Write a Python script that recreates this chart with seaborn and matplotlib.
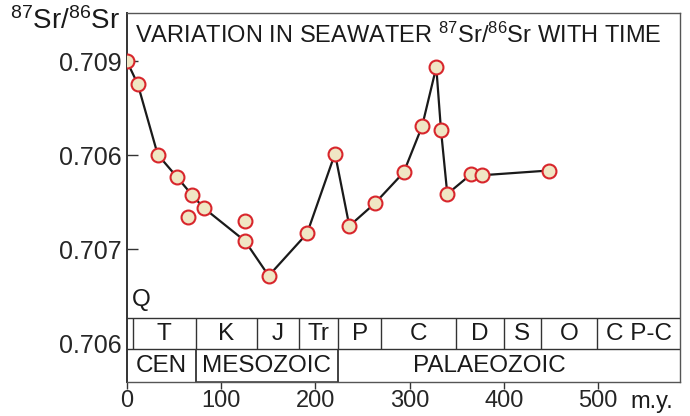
import numpy as np
import pandas as pd
import seaborn as sns
import matplotlib.pyplot as plt

sns.set_theme(style="ticks")
plt.rcParams['font.family'] = ['Liberation Sans', 'DejaVu Sans']
plt.rcParams['mathtext.fontset'] = 'custom'
plt.rcParams['mathtext.rm'] = 'Liberation Sans'
plt.rcParams['mathtext.it'] = 'Liberation Sans'

# connected curve: age (m.y.) and seawater 87Sr/86Sr
age = [0, 11.4, 32.6, 53.1, 69, 81.7, 125.3, 150.4, 191.1, 220.8, 236,
       263, 293.7, 313.2, 328.3, 333.3, 340, 365.2, 377.2, 447.7]
ratio = [0.70900, 0.70876, 0.70801, 0.70777, 0.70758, 0.70744, 0.70709, 0.70672,
         0.70717, 0.70802, 0.70725, 0.70749, 0.70782, 0.70831, 0.70894, 0.70827,
         0.70759, 0.70780, 0.70779, 0.70784]
# isolated samples
extra_age = [64.8, 125.6]
extra_ratio = [0.70735, 0.70730]

# geological time scale boundaries (m.y.)
period_names = ["T", "K", "J", "Tr", "P", "C", "D", "S", "O", "C P-C"]
period_edges = [6, 73, 137.7, 182.6, 224, 270, 349, 400.5, 439, 499, 587]
era_names = ["CEN", "MESOZOIC", "PALAEOZOIC"]
era_edges = [0, 73, 224, 587]

yticks = [0.709, 0.708, 0.707, 0.706]
ytick_labels = ["0.709", "0.706", "0.707", "0.706"]
xticks = [0, 100, 200, 300, 400, 500]

df = pd.DataFrame({"age": age, "ratio": ratio})
df_extra = pd.DataFrame({"age": extra_age, "ratio": extra_ratio})

fig = plt.figure(figsize=(6.9, 4.16), dpi=100)
ax = fig.add_axes([127 / 690, 34 / 416, 553 / 690, 369 / 416])

sns.lineplot(data=df, x="age", y="ratio", sort=False, estimator=None,
             color="#1a1a1a", linewidth=1.6, ax=ax, zorder=2)
face = "#f0e6c4"
edge = "#d8262c"
sns.scatterplot(data=df, x="age", y="ratio", s=100, color=face,
                edgecolor=edge, linewidth=1.5, ax=ax, zorder=3)
sns.scatterplot(data=df_extra, x="age", y="ratio", s=100, color=face,
                edgecolor=edge, linewidth=1.5, ax=ax, zorder=3)

ax.set_xlim(0, 587)
ax.set_ylim(0.70559, 0.709516)

# time scale band
band_top, band_mid = 0.70627, 0.70594
lc = "#333333"
fs = 17.5
ax.hlines([band_top, band_mid], 0, 587, color=lc, lw=1)
ax.vlines(period_edges[:-1], band_mid, band_top, color=lc, lw=1)
ax.vlines(era_edges[1:-1], 0.70559, band_mid, color=lc, lw=1.3)
ax.hlines(0.70559, era_edges[1], era_edges[2], color=lc, lw=1.8)
for i, name in enumerate(period_names):
    x0, x1 = period_edges[i], period_edges[i + 1]
    ax.text((x0 + x1) / 2, (band_top + band_mid) / 2, name, ha="center",
            va="center", fontsize=fs, color="#1a1a1a")
for i, name in enumerate(era_names):
    x0, x1 = era_edges[i], era_edges[i + 1]
    xc = (x0 + x1) / 2 if i < 2 else 385
    ax.text(xc, (band_mid + 0.70559) / 2, name, ha="center", va="center",
            fontsize=fs, color="#1a1a1a")
ax.text(5, 0.706463, "Q", ha="left", va="center", fontsize=fs, color="#1a1a1a")

# axes styling
for s in ax.spines.values():
    s.set_color("#555555")
    s.set_linewidth(1)
ax.spines["left"].set_color("#333333")
ax.spines["left"].set_linewidth(1.4)

ax.set_yticks(yticks)
ax.set_yticklabels(ytick_labels, fontsize=18)
ax.tick_params(axis="y", direction="in", length=8, width=1, color="#333333", pad=4)
ax.yaxis.get_major_ticks()[3].tick1line.set_visible(False)
ax.set_xticks(xticks)
ax.set_xticklabels([str(v) for v in xticks], fontsize=17)
ax.tick_params(axis="x", direction="out", length=5, width=1, color="#333333", pad=1)
ax.set_xlabel("")
ax.set_ylabel("")

ax.text(0.014, 0.975, r"VARIATION IN SEAWATER $^{87}$Sr/$^{86}$Sr WITH TIME",
        transform=ax.transAxes, ha="left", va="top", fontsize=17, color="#1a1a1a")
fig.text(10 / 690, 1 - 21 / 416, r"$^{87}$Sr/$^{86}$Sr", ha="left", va="center",
         fontsize=20, color="#1a1a1a")
fig.text(630 / 690, 1 - 402 / 416, "m.y.", ha="left", va="center", fontsize=17,
         color="#1a1a1a")

fig.savefig("out.png", dpi=100)
